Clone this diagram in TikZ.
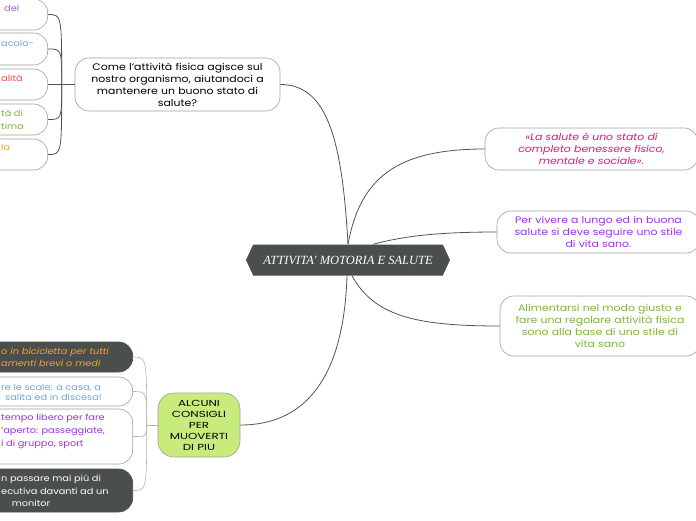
\documentclass[tikz,border=0pt]{standalone}
\usepackage{fontspec}
\setmainfont[FakeStretch=1.15]{Poppins}
\newfontfamily\capsfont[FakeStretch=1.35]{Poppins}
\newfontfamily\titlefont{Liberation Serif}
\usetikzlibrary{shapes.symbols}
\definecolor{darkbox}{HTML}{4A4F4E}
\definecolor{edgegray}{HTML}{A0A0A0}
\definecolor{linkdark}{HTML}{505553}
\definecolor{linklight}{HTML}{B4B4B4}
\definecolor{lime}{HTML}{C8EC7C}
\definecolor{pinktxt}{HTML}{E5157F}
\definecolor{violettxt}{HTML}{A030EC}
\definecolor{greentxt}{HTML}{7DB83A}
\definecolor{lilactxt}{HTML}{B262D2}
\definecolor{bluetxt}{HTML}{6FA6D6}
\definecolor{redtxt}{HTML}{EE4B40}
\definecolor{orangetxt}{HTML}{F4A422}
\tikzset{
  topic/.style={draw=edgegray, line width=0.6pt, fill=white, rounded corners=14pt,
    align=center, inner sep=0pt, font=\fontsize{9.5}{12}\selectfont},
  leaf/.style={topic, anchor=east, minimum width=200pt},
  darkleaf/.style={leaf, fill=darkbox, draw=darkbox},
  frag/.style={anchor=base west, inner sep=0pt, font=\fontsize{8.5}{12.5}\selectfont},
  link/.style={draw=linkdark, line width=0.8pt},
  twig/.style={draw=linklight, line width=0.6pt}
}
\begin{document}
\begin{tikzpicture}[x=1pt, y=-1pt]
  \useasboundingbox (0,0) rectangle (696,520);
  \clip (0,0) rectangle (696,520);
  \fill[white] (0,0) rectangle (696,520);

  \node[signal, signal to=west and east, signal pointer angle=130,
    minimum width=204pt, minimum height=31pt, inner sep=0pt, fill=darkbox,
    text=white, font=\titlefont\itshape\fontsize{12.5}{14}\selectfont]
    (ctr) at (348,260) {ATTIVITA' MOTORIA E SALUTE};

  \node[topic, minimum width=205pt, minimum height=53pt, text width=195pt]
    (come) at (177.5,84.5) {Come l'attività fisica agisce sul\\nostro organismo, aiutandoci a\\mantenere un buono stato di\\salute?};
  \node[topic, minimum width=213pt, minimum height=42pt, text width=205pt, text=pinktxt,
    font=\itshape\fontsize{9.5}{12}\selectfont]
    (def) at (591.5,149) {«La salute è uno stato di\\completo benessere fisico,\\mentale e sociale».};
  \node[topic, minimum width=203pt, minimum height=42pt, text width=195pt, text=violettxt]
    (vita) at (598.5,232) {Per vivere a lungo ed in buona\\salute si deve seguire uno stile\\di vita sano.};
  \node[topic, minimum width=200pt, minimum height=60pt, text width=195pt, text=greentxt]
    (cibo) at (600,326) {Alimentarsi nel modo giusto e\\fare una regolare attività fisica\\sono alla base di uno stile di\\vita sano};
  \node[topic, fill=lime, rounded corners=16pt, minimum width=82pt, minimum height=64pt,
    font=\capsfont\fontsize{8.8}{11}\selectfont]
    (tips) at (199,425) {ALCUNI\\CONSIGLI\\PER\\MUOVERTI\\DI PIU};

  \node[leaf, minimum height=31pt] (t1) at (48,14.5) {};
  \node[leaf, minimum height=32pt] (t2) at (48,49) {};
  \node[leaf, minimum height=31pt] (t3) at (48,84.5) {};
  \node[leaf, minimum height=31pt] (t4) at (48,119.5) {};
  \node[leaf, minimum height=31pt] (t5) at (48,154.5) {};
  \node[frag, text=lilactxt] (f1) at (4,11) {del};
  \node[frag, text=bluetxt] (f2) at (1,46) {acolo-};
  \node[frag, text=redtxt] (f3) at (1,81) {alità};
  \node[frag, text=greentxt] (f4) at (1,116) {tà di};
  \node[frag, text=greentxt] (f5) at (1,129) {tima};
  \node[frag, text=orangetxt] (f6) at (1,150) {la};

  \node[darkleaf, minimum height=30pt] (b1) at (133,357) {};
  \node[leaf, minimum height=29pt] (b2) at (133,391.5) {};
  \node[leaf, minimum height=55pt] (b3) at (133,436.5) {};
  \node[darkleaf, minimum height=43pt] (b4) at (133,490.5) {};
  \node[frag, text=orangetxt, font=\fontsize{8.5}{12.5}\selectfont\itshape] (g1) at (1,354) {o in bicicletta per tutti};
  \node[frag, text=orangetxt, font=\fontsize{8.5}{12.5}\selectfont\itshape] (g2) at (1,366) {amenti brevi o medi};
  \node[frag, text=bluetxt] (g3) at (1,390) {re le scale: a casa, a};
  \node[frag, text=bluetxt] (g4) at (5,400) {salita ed in discesa!};
  \node[frag, text=violettxt] (g5) at (1,420) {tempo libero per fare};
  \node[frag, text=violettxt] (g6) at (1,433) {'aperto: passeggiate,};
  \node[frag, text=violettxt] (g7) at (1,446) {i di gruppo, sport};
  \node[frag, text=white] (g8) at (1,481) {n passare mai più di};
  \node[frag, text=white] (g9) at (1,494) {ecutiva davanti ad un};
  \node[frag, text=white, anchor=base] (g10) at (31,506) {monitor};

  \draw[link] (ctr.north) .. controls +(-6,-110) and +(45,0) .. (come.east);
  \draw[link] (ctr.north) .. controls +(12,-65) and +(-90,0) .. (def.west);
  \draw[link] ([xshift=25pt]ctr.north) .. controls +(30,-8) and +(-60,0) .. (vita.west);
  \draw[link] ([xshift=4pt]ctr.south) .. controls +(22,40) and +(-85,0) .. (cibo.west);
  \draw[link] ([xshift=-1pt]ctr.south) .. controls +(-3,95) and +(70,0) .. (tips.east);

  \coordinate (jt) at ([xshift=-13pt]come.west);
  \draw[link] (come.west) -- (jt);
  \foreach \n in {t1,t2,t3,t4,t5}
    \draw[link] (jt) .. controls (jt |- \n.east) .. (\n.east);

  \coordinate (jb) at ([xshift=-11pt]tips.west);
  \draw[twig] (tips.west) -- (jb);
  \foreach \n in {b1,b2,b3,b4}
    \draw[twig] (jb) .. controls (jb |- \n.east) .. (\n.east);
\end{tikzpicture}
\end{document}
